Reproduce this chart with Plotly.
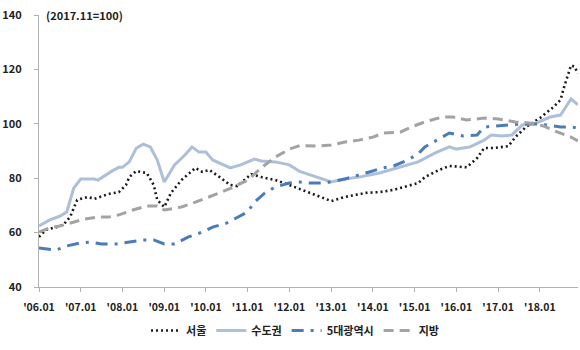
import plotly.graph_objects as go

seoul_x = ["2006-01","2006-03","2006-06","2006-08","2006-10","2006-12","2007-03","2007-05","2007-09","2007-12",
           "2008-02","2008-03","2008-05","2008-08","2008-10","2008-11","2009-01","2009-03","2009-06","2009-10",
           "2009-12","2010-02","2010-05","2010-08","2010-10","2011-02","2011-05","2011-09","2012-01","2012-04",
           "2012-07","2013-01","2013-05","2013-11","2014-03","2014-07","2014-10","2015-02","2015-04","2015-08",
           "2015-11","2016-04","2016-07","2016-09","2016-12","2017-04","2017-06","2017-09","2018-01","2018-05",
           "2018-07","2018-08","2018-10","2018-11","2018-12"]
seoul_y = [58.4,61,62,62.8,65.8,72,73.1,72.4,74.2,74.9,
           77.5,80.4,82.6,81.9,77.5,72,69.4,74.6,79.3,83.8,
           82.3,83,80.4,77.5,77.1,81.5,80.4,79.3,77.5,76,
           74.6,71.6,73.1,74.6,74.9,75.7,76.8,78.2,80.4,83,
           84.5,84,87.4,91.1,91.1,91.8,95.1,98.8,102.1,106.2,
           108.8,113.5,121.5,121,118.5]

capital_x = ["2006-01","2006-04","2006-07","2006-09","2006-11","2007-01","2007-05","2007-06","2007-10","2007-12",
             "2008-01","2008-03","2008-05","2008-07","2008-09","2008-11","2009-01","2009-04","2009-07","2009-09",
             "2009-11","2010-01","2010-03","2010-08","2010-11","2011-03","2011-05","2011-09","2012-01","2012-04",
             "2012-07","2012-11","2013-01","2013-05","2013-09","2014-03","2014-09","2015-02","2015-07","2015-11",
             "2016-01","2016-05","2016-09","2016-11","2017-02","2017-05","2017-08","2017-12","2018-04","2018-07",
             "2018-10","2018-11","2018-12"]
capital_y = [62.4,64.6,66,67.6,76.4,79.7,79.7,79.3,82.6,84,
             84,86,91,92.5,91.5,86.7,78.6,84.9,88.5,91.5,
             89.6,89.6,86.7,83.8,84.9,87,86.3,86,84.9,82.5,
             81.2,79.3,78.6,79.7,80.4,81.9,84.1,86,89.3,91.5,
             90.7,91.5,94,95.9,95.5,95.9,99.6,100.3,102.5,103.2,
             109.1,108,107]

metro_x = ["2006-01","2006-06","2006-09","2007-01","2007-04","2007-07","2007-11","2008-03","2008-07","2008-10",
           "2009-01","2009-04","2009-08","2009-12","2010-03","2010-07","2010-10","2011-01","2011-03","2011-06",
           "2011-09","2012-01","2012-04","2012-07","2012-11","2013-05","2013-12","2014-04","2014-07","2014-11",
           "2015-02","2015-04","2015-08","2015-11","2016-03","2016-07","2016-09","2016-12","2017-04","2017-08",
           "2017-12","2018-03","2018-07","2018-10","2018-12"]
metro_y = [54.3,53.6,55.1,56.2,56.5,55.8,55.8,56.5,57.3,57.3,
           55.8,55.8,58.4,60.2,62,63.5,65.4,67.6,71.2,74.6,
           76.8,78.2,78.6,78.2,78.2,79.7,82.3,83.8,84.5,86.7,
           88.9,91.5,94.4,96.6,95.5,95.9,98.8,99.2,99.6,99.9,
           99.9,99.6,98.8,98.8,98.5]

local_x = ["2006-01","2006-04","2006-07","2006-10","2007-02","2007-06","2007-09","2007-12","2008-04","2008-08",
           "2008-11","2009-01","2009-06","2009-10","2010-02","2010-05","2010-09","2011-01","2011-05","2011-09",
           "2012-01","2012-04","2012-09","2013-01","2013-05","2013-09","2014-01","2014-04","2014-09","2014-12",
           "2015-04","2015-09","2015-12","2016-04","2016-09","2017-01","2017-06","2017-10","2018-02","2018-06",
           "2018-10","2018-12"]
local_y = [60.2,61.7,62.4,63.5,65,65.7,65.7,66.5,68.3,69.8,
           69.8,68.3,69.4,71.2,73.1,74.6,76.8,79.3,83.8,87.8,
           90.7,92,91.8,92.2,93.3,94,95.1,96.6,97,98.8,
           100.7,102.5,102.5,101.4,102.1,101.8,100.7,100.3,99.2,97,
           95.1,93.7]

tick_years = list(range(2006, 2019))
tick_vals = [f"{y}-01-01" for y in tick_years]
tick_text = [f"'{str(y)[2:]}.01" for y in tick_years]
y_ticks = [40, 60, 80, 100, 120, 140]

def d(lst):
    return [s + "-01" for s in lst]

fig = go.Figure()
fig.add_trace(go.Scatter(x=d(seoul_x), y=seoul_y, name="서울", mode="lines",
                         line=dict(color="#1b1b1b", width=2.6, dash="2px,3px")))
fig.add_trace(go.Scatter(x=d(capital_x), y=capital_y, name="수도권", mode="lines",
                         line=dict(color="#aebfd8", width=3)))
fig.add_trace(go.Scatter(x=d(metro_x), y=metro_y, name="5대광역시", mode="lines",
                         line=dict(color="#4a7cbb", width=3, dash="12px,7px,3px,7px")))
fig.add_trace(go.Scatter(x=d(local_x), y=local_y, name="지방", mode="lines",
                         line=dict(color="#a3a3a3", width=3, dash="10px,6px")))

font_family = "Noto Sans CJK KR"
fig.update_layout(
    width=580, height=350,
    margin=dict(l=39, r=2, t=15, b=63, autoexpand=False),
    paper_bgcolor="white", plot_bgcolor="white",
    font=dict(family=font_family, size=11, color="#222"),
    showlegend=True,
    legend=dict(orientation="h", x=0.475, xanchor="center", y=-0.16, yanchor="middle",
                font=dict(size=11, weight="bold", color="#222"),
                itemwidth=30, tracegroupgap=0),
    annotations=[dict(text="(2017.11=100)", x=0.01, xref="paper", y=140, yref="y",
                      xanchor="left", yanchor="middle", showarrow=False,
                      font=dict(size=11, weight="bold", color="#222"))],
)
fig.update_xaxes(range=["2006-01-01", "2018-12-01"], tickvals=tick_vals, ticktext=tick_text,
                 showgrid=False, zeroline=False, showline=True, linecolor="#b0b0b0", linewidth=1,
                 ticks="outside", ticklen=4, tickcolor="#b0b0b0", ticklabelstandoff=6,
                 tickfont=dict(size=10.5, weight="bold", color="#222"))
fig.update_yaxes(range=[40, 140], tickvals=y_ticks,
                 showgrid=False, zeroline=False, showline=True, linecolor="#b0b0b0", linewidth=1,
                 ticks="outside", ticklen=4, tickcolor="#b0b0b0", ticklabelstandoff=10,
                 tickfont=dict(size=11, weight="bold", color="#222"))

fig.write_html("out.html")
